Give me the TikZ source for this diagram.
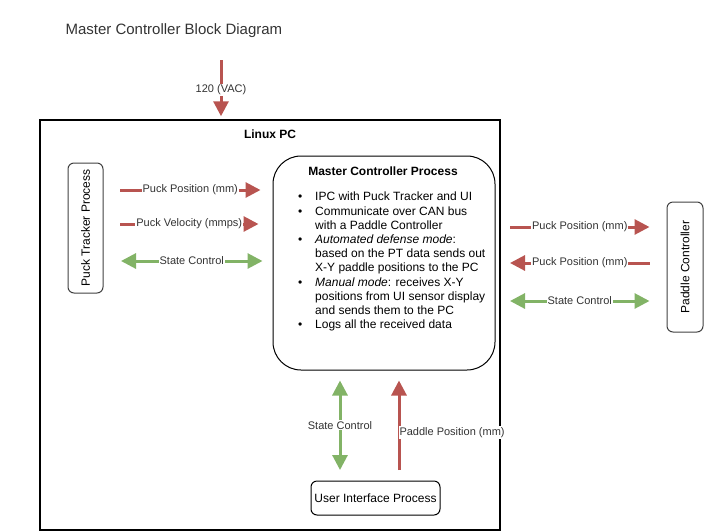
\documentclass[tikz,border=0pt]{standalone}
\usepackage{fontspec}
\setmainfont{Liberation Sans}
\usetikzlibrary{positioning, arrows.meta}
\definecolor{redline}{HTML}{B85450}
\definecolor{greenline}{HTML}{82B366}
\definecolor{txtgray}{HTML}{333333}
\tikzset{redarc/.style={line width=3pt, draw=redline, -{Triangle[length=15pt,width=15pt]}}}
\tikzset{greenarc/.style={line width=3pt, draw=greenline, {Triangle[length=15pt,width=15pt]}-{Triangle[length=15pt,width=15pt]}}}
\tikzset{alabel/.style={midway,fill=white,inner sep=1pt,font=\fontsize{11}{13}\selectfont,text=txtgray}}
\tikzset{procbox/.style={draw=black!75,line width=1pt,rounded corners=6pt,font=\fontsize{12}{14}\selectfont,inner sep=0pt}}
\newcommand{\mcbullet}{\makebox[18pt][l]{\hspace{1pt}\textbullet}}
\newcommand{\mcgap}{\makebox[18pt][l]{}}

\begin{document}
\begin{tikzpicture}[
                x=1pt, y=-1pt
            ]
                \useasboundingbox (0,0) rectangle (704,531);

                \node[anchor=west, font=\fontsize{15}{18}\selectfont, text=txtgray] (title) at (62,31) {Master Controller Block Diagram};

                \node[draw, line width=1.5pt, minimum width=460pt, minimum height=410pt, inner sep=0pt] (pc) at (270,325) {};
                \node[font=\bfseries\fontsize{12}{14}\selectfont] (pclabel) at (270,134) {Linux PC};

                \node[procbox, rotate=90, minimum width=130pt, minimum height=35pt] (tracker) at (85.5,228) {Puck Tracker Process};
                \node[procbox, rotate=90, minimum width=130pt, minimum height=36pt] (paddle) at (685,267) {Paddle Controller};
                \node[procbox, draw=black, rounded corners=28pt, minimum width=222pt, minimum height=214pt] (master) at (384,263) {};
                \node[font=\bfseries\fontsize{12}{14}\selectfont] (mastertitle) at (383,171) {Master Controller Process};
                \node[anchor=north west, align=left, inner sep=0pt, font=\fontsize{12}{14.2}\selectfont] (masterlist) at (297,192) {%
                    \mcbullet IPC with Puck Tracker and UI\\
                    \mcbullet Communicate over CAN bus\\
                    \mcgap with a Paddle Controller\\
                    \mcbullet \textit{Automated defense mode}:\\
                    \mcgap based on the PT data sends out\\
                    \mcgap X-Y paddle positions to the PC\\
                    \mcbullet \textit{Manual mode}: receives X-Y\\
                    \mcgap positions from UI sensor display\\
                    \mcgap and sends them to the PC\\
                    \mcbullet Logs all the received data};
                \node[procbox, draw=black, minimum width=129pt, minimum height=34pt] (ui) at (375.5,498) {User Interface Process};

                % power input
                \coordinate (vac) at (221,60);
                \draw[redarc, shorten >=3pt] (vac) -- (vac |- pc.north) node[alabel, pos=0.5]{120 (VAC)};

                % tracker <-> master
                \coordinate (t1) at (120,190);
                \coordinate (t2) at (120,224);
                \coordinate (t3) at (121,261);
                \draw[redarc] (t1) -- ([xshift=-12pt]master.west |- t1) node[alabel]{Puck Position (mm)};
                \draw[redarc] (t2) -- ([xshift=-14pt]master.west |- t2) node[alabel]{Puck Velocity (mmps)};
                \draw[greenarc] (t3) -- ([xshift=-10pt]master.west |- t3) node[alabel]{State Control};

                % pc <-> paddle controller
                \coordinate (p1) at (510,227);
                \coordinate (p2) at (510,263);
                \coordinate (p3) at (510,301);
                \draw[redarc] (p1) -- ([xshift=-17pt]paddle.north |- p1) node[alabel]{Puck Position (mm)};
                \draw[redarc] ([xshift=-17pt]paddle.north |- p2) -- (p2) node[alabel]{Puck Position (mm)};
                \draw[greenarc] (p3) -- ([xshift=-17pt]paddle.north |- p3) node[alabel]{State Control};

                % ui <-> master
                \coordinate (u1) at (340,470);
                \coordinate (u2) at (399,470);
                \draw[greenarc] (u1) -- ([yshift=-10pt]u1 |- master.south) node[alabel, pos=0.5]{State Control};
                \draw[redarc] (u2) -- ([yshift=-10pt]u2 |- master.south) node[alabel, pos=0.42, anchor=west, xshift=-2pt]{Paddle Position (mm)};
            \end{tikzpicture}
\end{document}
